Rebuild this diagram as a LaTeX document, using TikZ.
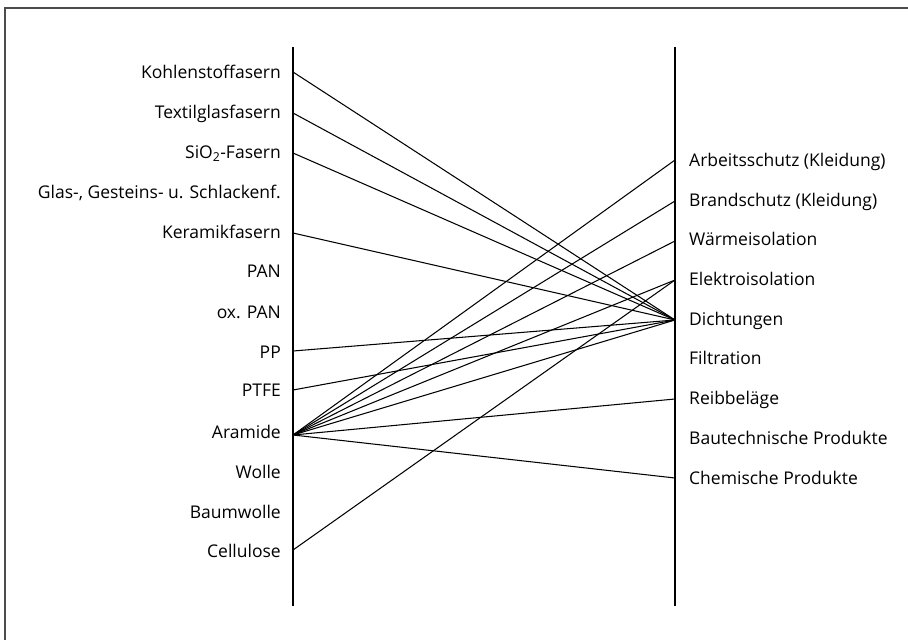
\documentclass[tikz,border=0pt]{standalone}
\usepackage{fontspec}
\setmainfont{Open Sans}
\begin{document}
\begin{tikzpicture}[x=1pt,y=-1pt,
  lab/.style={font=\fontsize{17.5}{20}\selectfont, inner sep=0pt, text height=12.5pt, text depth=0pt},
  llab/.style={lab, anchor=east},
  rlab/.style={lab, anchor=west},
  axis/.style={line width=1.3pt},
  conn/.style={line width=1.05pt},
  frame/.style={line width=1.6pt, black!70}]
\useasboundingbox (0,0) rectangle (908,640);
\draw[frame] (5,640) -- (5,8) -- (908,8);
% axes
\coordinate (LT) at (293,47); \coordinate (LB) at (293,606);
\coordinate (RT) at (675,47); \coordinate (RB) at (675,606);
\draw[axis] (LT) -- (LB);
\draw[axis] (RT) -- (RB);
% left labels
\node[llab] (n1) at (281,72) {Kohlenstoffasern};
\node[llab] (n2) at (281,112) {Textilglasfasern};
\node[llab] (n3) at (281,152) {SiO\textsubscript{2}-Fasern};
\node[llab] (n4) at (281,192) {Glas-, Gesteins- u. Schlackenf.};
\node[llab] (n5) at (281,232) {Keramikfasern};
\node[llab] (n6) at (281,271) {PAN};
\node[llab] (n7) at (281,312) {ox. PAN};
\node[llab] (n8) at (281,352) {PP};
\node[llab] (n9) at (281,390) {PTFE};
\node[llab] (n10) at (281,432) {Aramide};
\node[llab] (n11) at (281,472) {Wolle};
\node[llab] (n12) at (281,512) {Baumwolle};
\node[llab] (n13) at (281,551) {Cellulose};
% right labels
\node[rlab] (m1) at (689,160) {Arbeitsschutz (Kleidung)};
\node[rlab] (m2) at (689,200) {Brandschutz (Kleidung)};
\node[rlab] (m3) at (689,239) {Wärmeisolation};
\node[rlab] (m4) at (689,279) {Elektroisolation};
\node[rlab] (m5) at (689,319) {Dichtungen};
\node[rlab] (m6) at (689,358) {Filtration};
\node[rlab] (m7) at (689,398) {Reibbeläge};
\node[rlab] (m8) at (689,438) {Bautechnische Produkte};
\node[rlab] (m9) at (689,478) {Chemische Produkte};
% attachment points
\coordinate (a1) at (293,72);
\coordinate (a2) at (293,113);
\coordinate (a3) at (293,153);
\coordinate (a5) at (293,233);
\coordinate (a8) at (293,351);
\coordinate (a9) at (293,390);
\coordinate (a10) at (293,435);
\coordinate (a13) at (293,550);
\coordinate (b1) at (675,160);
\coordinate (b2) at (675,201);
\coordinate (b3) at (675,241);
\coordinate (b4) at (675,280);
\coordinate (b5) at (675,320);
\coordinate (b7) at (675,399);
\coordinate (b9) at (675,478);
% connectors
\draw[conn] (a1) -- (b5);
\draw[conn] (a2) -- (b5);
\draw[conn] (a3) -- (b5);
\draw[conn] (a5) -- (b5);
\draw[conn] (a8) -- (b5);
\draw[conn] (a9) -- (b5);
\draw[conn] (a10) -- (b1);
\draw[conn] (a10) -- (b2);
\draw[conn] (a10) -- (b3);
\draw[conn] (a10) -- (b4);
\draw[conn] (a10) -- (b5);
\draw[conn] (a10) -- (b7);
\draw[conn] (a10) -- (b9);
\draw[conn] (a13) -- (b4);
\end{tikzpicture}
\end{document}
